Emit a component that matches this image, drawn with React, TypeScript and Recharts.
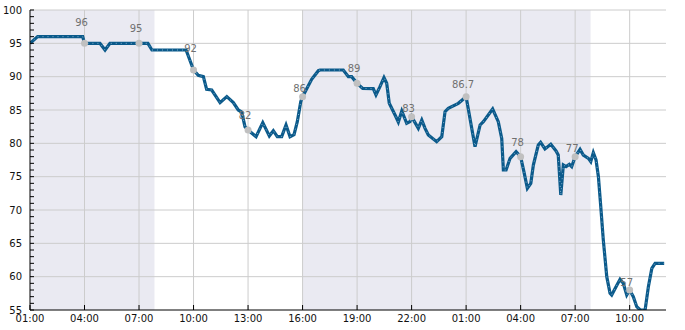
import {
  ComposedChart,
  Line,
  XAxis,
  YAxis,
  ReferenceArea,
  ReferenceLine,
  ReferenceDot,
} from 'recharts'

// hours since 01:00 on day one
const hours = [
  0, 0.42, 2.9, 3.0, 3.85, 4.13, 4.4, 6.49, 6.71, 8.59, 9.0, 9.26, 9.54, 9.72, 10.0,
  10.46, 10.83, 11.19, 11.46, 11.65, 11.83, 12.0, 12.44, 12.81, 13.17, 13.39, 13.61,
  13.85, 14.09, 14.31, 14.53, 14.71, 14.9, 15.0, 15.5, 15.87, 15.96, 17.24, 17.52,
  17.7, 18.0, 18.31, 18.89, 19.04, 19.26, 19.48, 19.63, 19.77, 20.09, 20.27, 20.46,
  20.73, 20.91, 21.0, 21.37, 21.56, 21.74, 21.92, 22.38, 22.66, 22.84, 23.02, 23.57,
  24.0, 24.49, 24.77, 24.95, 25.46, 25.77, 25.96, 26.05, 26.2, 26.42, 26.75, 27.0,
  27.18, 27.37, 27.56, 27.7, 27.97, 28.1, 28.34, 28.66, 28.95, 29.07, 29.21, 29.35,
  29.5, 29.68, 29.81, 30.0, 30.27, 30.45, 30.73, 30.86, 31.0, 31.15, 31.28, 31.41,
  31.55, 31.74, 31.92, 32.01, 32.25, 32.47, 32.65, 32.84, 33.0, 33.2, 33.39, 33.58,
  33.85, 34.03, 34.22, 34.4, 34.9,
]
const values = [
  95, 96, 96, 95, 95, 94, 95, 95, 94, 94, 91, 90.2, 90, 88.1, 88,
  86.1, 87, 86.1, 85, 84.7, 82.5, 82, 81, 83.1, 81.1, 81.9, 81,
  81, 82.75, 81, 81.3, 83.25, 86.25, 87, 89.6, 90.9, 91, 91, 90,
  90, 89, 88.25, 88.2, 87.25, 88.5, 89.85, 89, 86, 84.25, 83.2, 84.85,
  83, 83.25, 84, 82.25, 83.5, 82.25, 81.25, 80.25, 81, 84.75, 85.25, 86,
  87, 79.5, 82.75, 83.25, 85.15, 83.25, 80.75, 76, 76, 77.75, 78.75, 78,
  75.75, 73.25, 74, 76.75, 79.75, 80.15, 79.15, 79.85, 78.85, 78.25, 72.25, 76.75,
  76.5, 76.85, 76.5, 78, 79.1, 78.25, 77.75, 77.25, 78.6, 77.5, 75, 70.5,
  65.5, 60, 57.5, 57.25, 58.5, 59.6, 59, 57.25, 58, 57, 55.5, 55,
  55, 58.5, 61.25, 62, 62,
]

const xTickHours = [0, 3, 6, 9, 12, 15, 18, 21, 24, 27, 30, 33]
const xTickLabels = ['01:00', '04:00', '07:00', '10:00', '13:00', '16:00', '19:00', '22:00', '01:00', '04:00', '07:00', '10:00']
const yMajorTicks = [55, 60, 65, 70, 75, 80, 85, 90, 95, 100]
const yAllTicks = [
  55, 56, 57, 58, 59, 60, 61, 62, 63, 64, 65, 66, 67, 68, 69, 70, 71, 72, 73, 74, 75,
  76, 77, 78, 79, 80, 81, 82, 83, 84, 85, 86, 87, 88, 89, 90, 91, 92, 93, 94, 95, 96,
  97, 98, 99, 100,
]

// night shading
const nightStarts = [0, 15]
const nightEnds = [6.85, 30.85]

// annotations every 3 h
const noteHours = [3, 6, 9, 12, 15, 18, 21, 24, 27, 30, 33]
const noteDotValues = [95, 95, 91, 82, 87, 89, 84, 87, 78, 78, 58]
const noteLabels = ['96', '95', '92', '82', '86', '89', '83', '86.7', '78', '77', '57']

const rows = hours.map((t, i) => ({ t, v: values[i] }))

function YTick(props: any) {
  const { x, y, payload } = props
  if (!yMajorTicks.includes(payload.value)) return <g />
  return (
    <text x={x} y={y} dy="0.355em" textAnchor="end" fontSize={10} fill="#111">
      {payload.value}
    </text>
  )
}

export default function App() {
  return (
    <div style={{ position: 'absolute', left: 0, top: 0, fontFamily: '"DejaVu Sans", sans-serif' }}>
      <ComposedChart
        width={685}
        height={330}
        data={rows}
        margin={{ top: 10, right: 19, left: 0, bottom: 0 }}
      >
        <XAxis
          dataKey="t"
          type="number"
          domain={[0, 35]}
          ticks={xTickHours}
          allowDataOverflow
          tickFormatter={(v: number) => xTickLabels[xTickHours.indexOf(v)] ?? ''}
          tick={{ fontSize: 10, fill: '#111' }}
          stroke="#000"
          tickSize={-5}
          tickMargin={10}
          height={20}
          interval={0}
        />
        <YAxis
          type="number"
          domain={[55, 100]}
          ticks={yAllTicks}
          allowDataOverflow
          interval={0}
          tick={<YTick />}
          stroke="#000"
          tickSize={-4}
          tickMargin={12}
          width={30}
        />

        {nightStarts.map((s, i) => (
          <ReferenceArea key={'n' + i} x1={s} x2={nightEnds[i]} fill="#eaeaf2" fillOpacity={1} stroke="none" />
        ))}

        {yMajorTicks.slice(1).map((v) => (
          <ReferenceLine key={'h' + v} y={v} stroke="#cccccc" strokeWidth={1} />
        ))}
        {xTickHours.slice(1).map((h) => (
          <ReferenceLine key={'v' + h} x={h} stroke="#cccccc" strokeWidth={1} />
        ))}

        <Line
          type="linear"
          dataKey="v"
          stroke="#0b5a8b"
          strokeWidth={3.2}
          dot={false}
          isAnimationActive={false}
        />
        {/* sparse light dots along the line */}
        <Line
          type="linear"
          dataKey="v"
          stroke="#a9cbe2"
          strokeOpacity={0.75}
          strokeWidth={1}
          strokeDasharray="1 4"
          dot={false}
          isAnimationActive={false}
        />

        {noteHours.map((h, i) => (
          <ReferenceDot key={'d' + i} x={h} y={noteDotValues[i]} r={3.5} fill="#c0c0c0" stroke="none" />
        ))}
        {noteHours.map((h, i) => (
          <ReferenceDot
            key={'l' + i}
            x={h}
            y={parseFloat(noteLabels[i])}
            r={0}
            shape={(p: any) => (
              <text x={p.cx - 3} y={p.cy - 11} textAnchor="middle" fontSize={10} fill="#707070">
                {noteLabels[i]}
              </text>
            )}
          />
        ))}
      </ComposedChart>
    </div>
  )
}
